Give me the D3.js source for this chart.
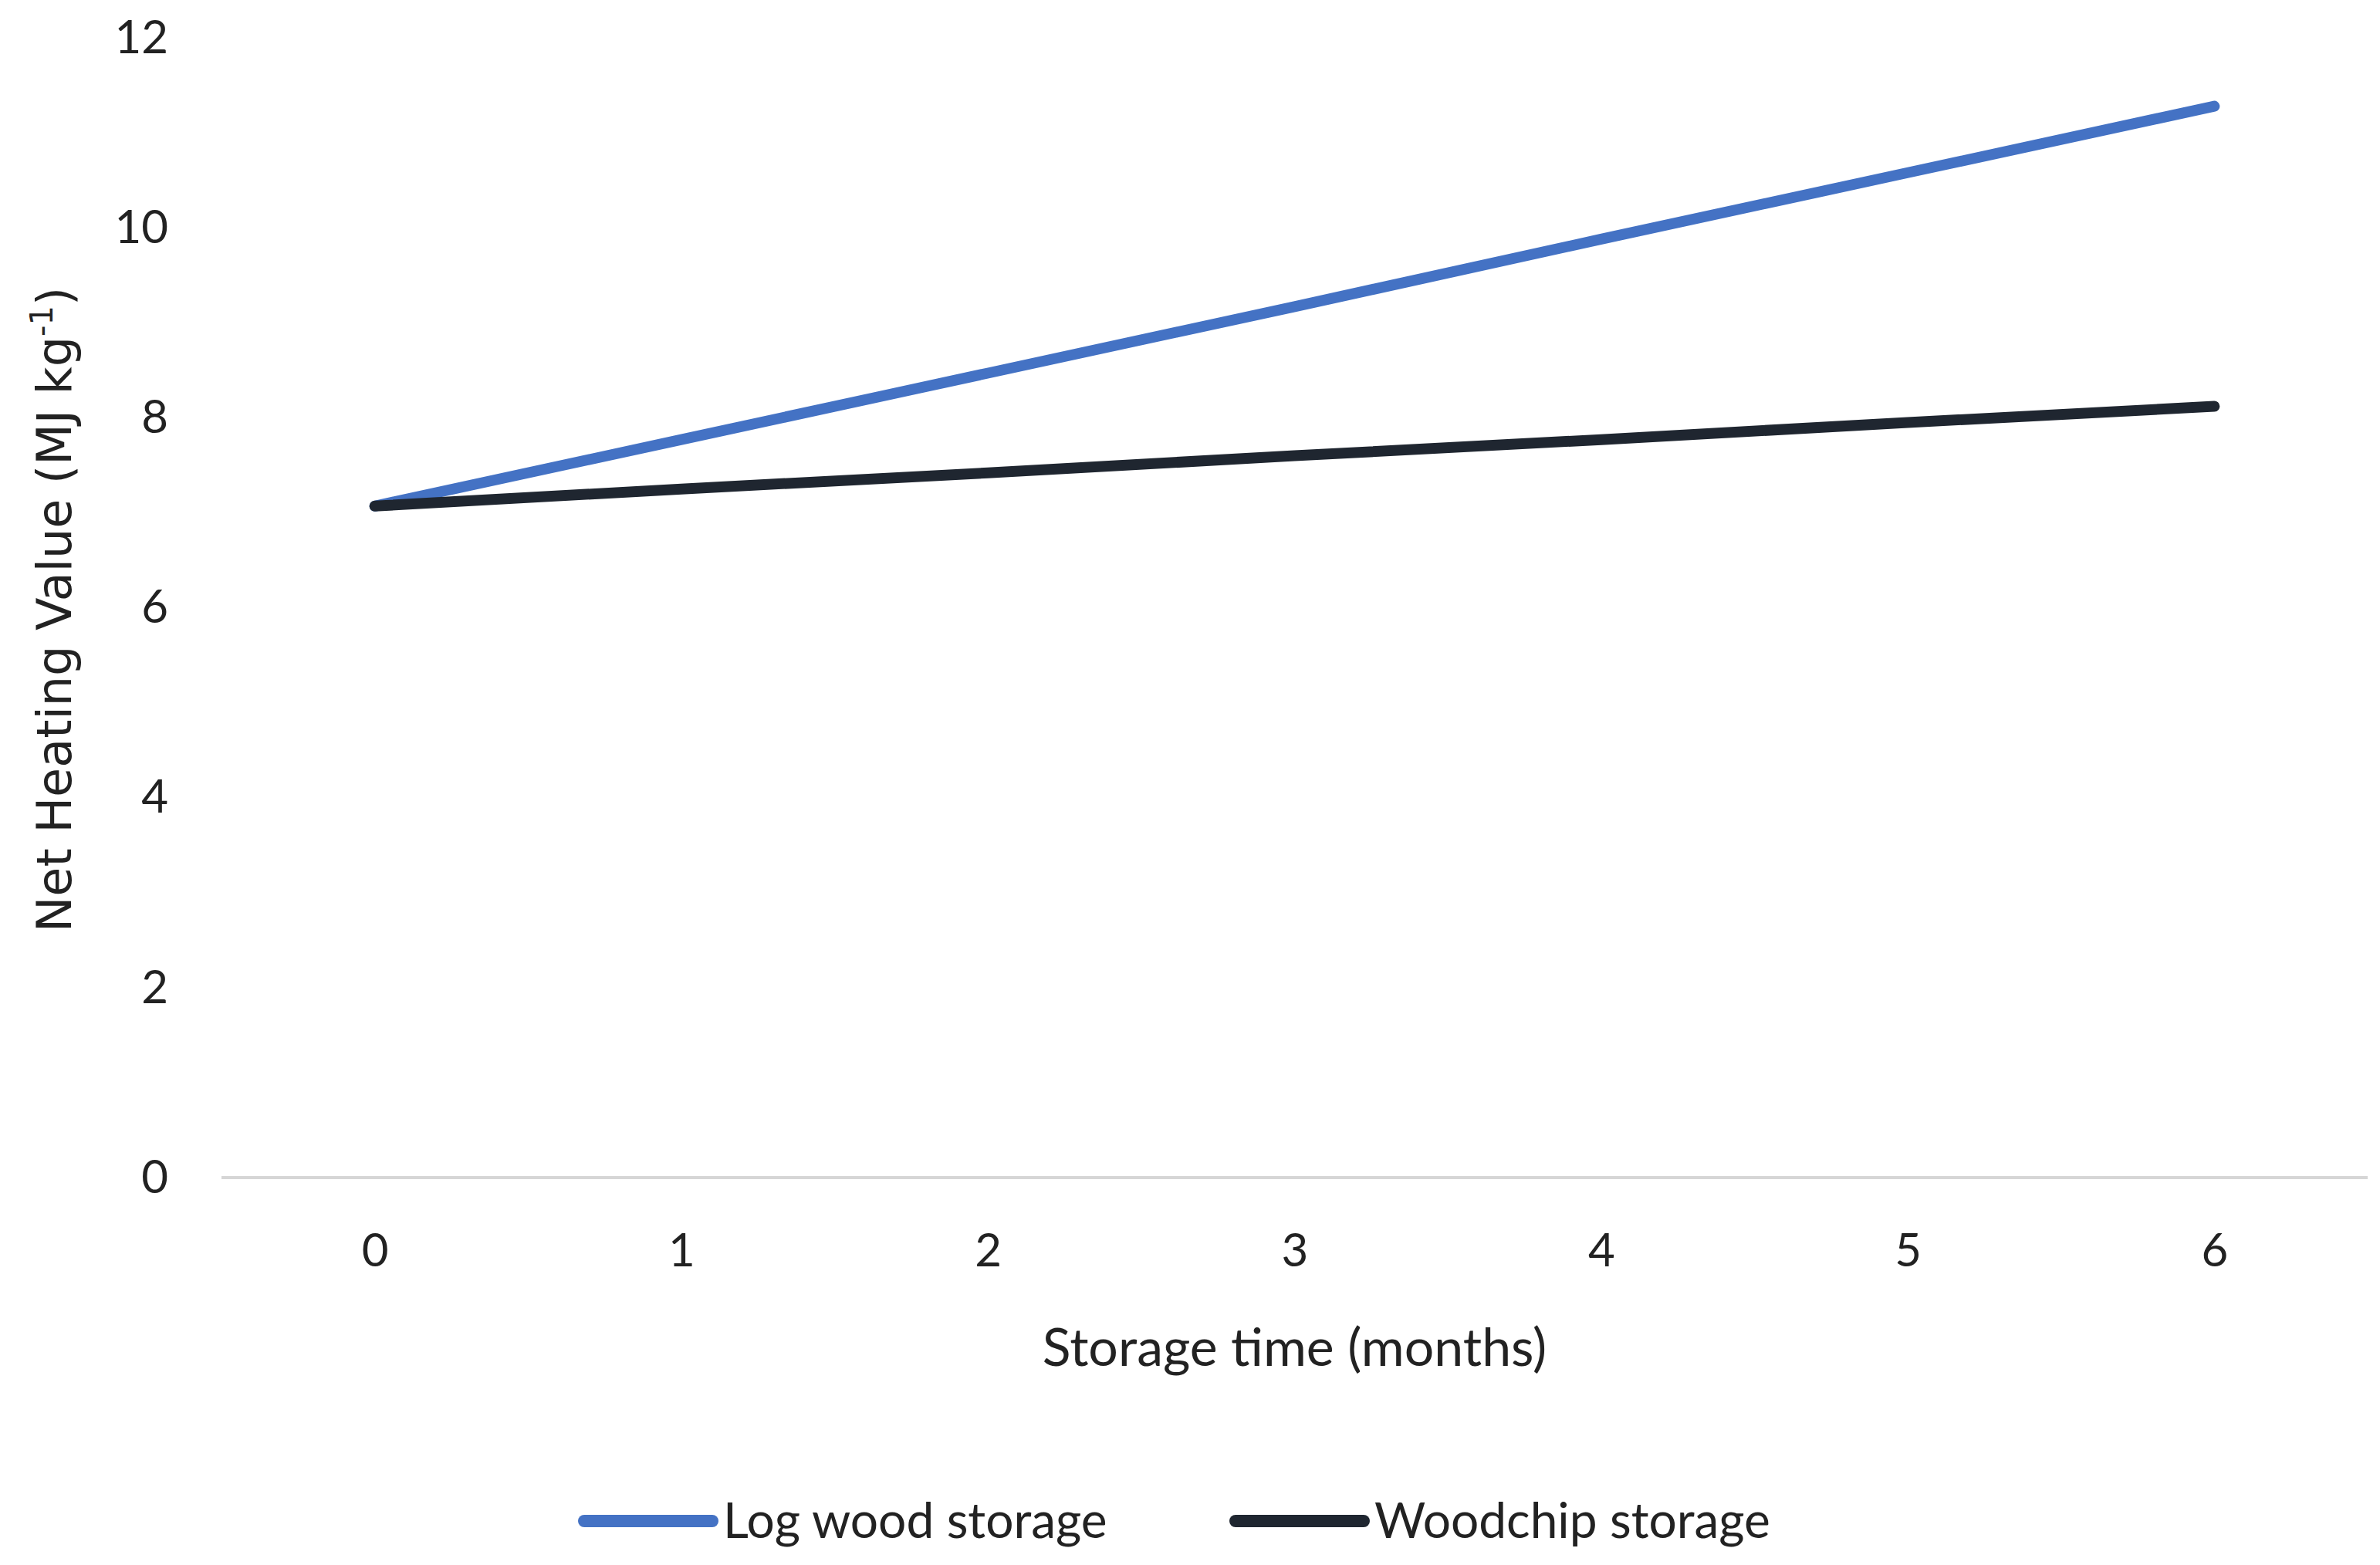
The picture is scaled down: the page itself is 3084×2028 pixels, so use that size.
<!DOCTYPE html>
<html>
<head>
<meta charset="utf-8">
<script src="https://cdn.jsdelivr.net/npm/d3@7"></script>
<style>
  body { margin: 0; background: #fff; }
  text { font-family: Lato, "Open Sans", sans-serif; fill: #222; }
</style>
</head>
<body>
<div id="chart"></div>
<script>
// data
var months = [0, 1, 2, 3, 4, 5, 6];
var logWood = [7.07, 7.77, 8.47, 9.17, 9.88, 10.58, 11.28];
var woodchip = [7.07, 7.25, 7.42, 7.6, 7.77, 7.95, 8.12];
var yTicks = [0, 2, 4, 6, 8, 10, 12];
var seriesNames = ["Log wood storage", "Woodchip storage"];
var seriesColors = ["#4472C4", "#1f2630"];

var svgWidth = 3084;
var svgHeight = 2028;

var svg = d3.select("#chart")
  .append("svg")
  .attr("width", svgWidth)
  .attr("height", svgHeight);

// scales
var xScale = d3.scalePoint()
  .domain(months)
  .range([287, 3068])
  .padding(0.5);

var yScale = d3.scaleLinear()
  .domain([0, 12])
  .range([1526, 49]);

// zero gridline
svg.append("line")
  .attr("x1", 287)
  .attr("x2", 3068)
  .attr("y1", yScale(0))
  .attr("y2", yScale(0))
  .attr("stroke", "#d6d6d6")
  .attr("stroke-width", 4);

// y axis (labels only)
var leftAxis = d3.axisLeft(yScale).tickValues(yTicks).tickSize(0).tickPadding(0);
var yAxisG = svg.append("g")
  .attr("transform", "translate(218,0)")
  .call(leftAxis);
yAxisG.select(".domain").remove();
yAxisG.selectAll("text")
  .style("font-family", "Lato, sans-serif")
  .attr("font-size", 60)
  .attr("fill", "#222");

// x axis (labels only)
var bottomAxis = d3.axisBottom(xScale).tickSize(0).tickPadding(0);
var xAxisG = svg.append("g")
  .attr("transform", "translate(0,1598)")
  .call(bottomAxis);
xAxisG.select(".domain").remove();
xAxisG.selectAll("text")
  .style("font-family", "Lato, sans-serif")
  .attr("font-size", 60)
  .attr("fill", "#222");

// axis titles
svg.append("text")
  .attr("x", (287 + 3068) / 2)
  .attr("y", 1770)
  .attr("text-anchor", "middle")
  .attr("font-size", 68)
  .text("Storage time (months)");

var yTitle = svg.append("text")
  .attr("transform", "translate(92,790) rotate(-90)")
  .attr("text-anchor", "middle")
  .attr("font-size", 62)
  .style("font-family", "'DejaVu Sans', sans-serif");
yTitle.append("tspan").text("Net Heating Value (MJ kg");
yTitle.append("tspan").attr("font-size", 40).attr("dy", -24).text("-1");
yTitle.append("tspan").attr("dy", 24).text(")");

// lines
var lineGen = d3.line()
  .x(function (d, i) { return xScale(months[i]); })
  .y(function (d) { return yScale(d); });

[logWood, woodchip].forEach(function (vals, i) {
  svg.append("path")
    .datum(vals)
    .attr("d", lineGen)
    .attr("fill", "none")
    .attr("stroke", seriesColors[i])
    .attr("stroke-width", 14)
    .attr("stroke-linecap", "round")
    .attr("stroke-linejoin", "round");
});

// legend
var legendX = [757, 1601];
seriesNames.forEach(function (name, i) {
  svg.append("line")
    .attr("x1", legendX[i])
    .attr("x2", legendX[i] + 166)
    .attr("y1", 1971)
    .attr("y2", 1971)
    .attr("stroke", seriesColors[i])
    .attr("stroke-width", 16)
    .attr("stroke-linecap", "round");
  svg.append("text")
    .attr("x", legendX[i] + 180)
    .attr("y", 1993)
    .attr("font-size", 64)
    .text(name);
});
</script>
</body>
</html>
